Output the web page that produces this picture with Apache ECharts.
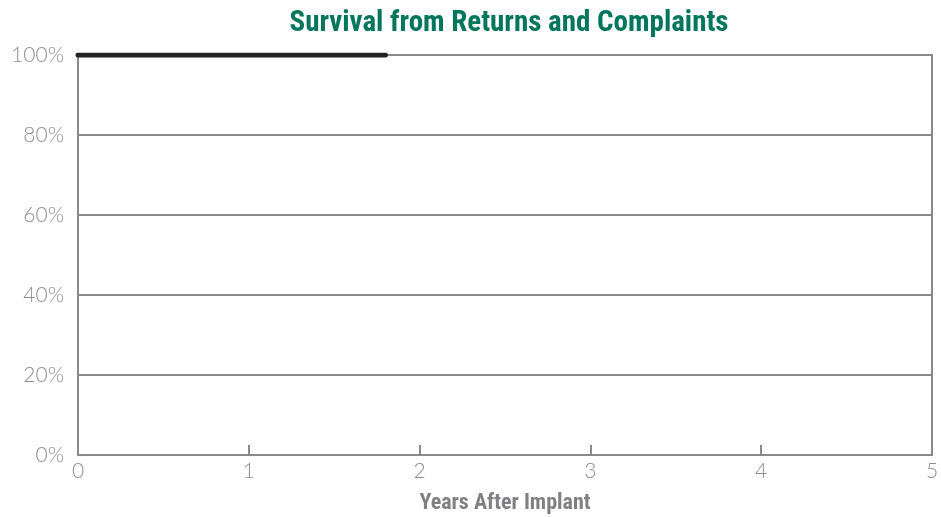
<!DOCTYPE html>
<html><head><meta charset="utf-8">
<script src="https://cdn.jsdelivr.net/npm/echarts@6/dist/echarts.min.js"></script>
<style>html,body{margin:0;padding:0;background:#fff}#c{width:941px;height:517px}</style>
</head><body><div id="c"></div>
<script>
const titleText = 'Survival from Returns and Complaints';
const xAxisName = 'Years After Implant';
const years = [0, 1.8];
const survival = [100, 100];
const yTicks = [0, 20, 40, 60, 80, 100];

const chart = echarts.init(document.getElementById('c'));
chart.setOption({
  animation: false,
  backgroundColor: '#fff',
  title: {
    text: titleText, left: 504, top: 4, textAlign: 'center',
    textStyle: {fontFamily: '"Roboto Condensed", "Liberation Sans Narrow", sans-serif', fontWeight: 'bold', fontSize: 29, color: '#00765C'}
  },
  grid: {left: 78, right: 9, top: 55, bottom: 62, outerBoundsMode: 'none', containLabel: false,
    show: true, borderColor: '#8a8a8c', borderWidth: 2, backgroundColor: 'transparent'},
  xAxis: {
    type: 'value', min: 0, max: 5, interval: 1,
    name: xAxisName, nameLocation: 'middle', nameGap: 37,
    nameTextStyle: {fontFamily: '"Roboto Condensed", "Liberation Sans Narrow", sans-serif', fontWeight: 'bold', fontSize: 22, color: '#808083'},
    axisLine: {show: true, lineStyle: {color: '#8a8a8c', width: 2}},
    axisTick: {show: true, inside: true, length: 10, lineStyle: {color: '#8a8a8c', width: 2}},
    axisLabel: {fontFamily: 'Lato, sans-serif', fontWeight: 300, fontSize: 21, color: '#8e8e91', margin: 6},
    splitLine: {show: false}
  },
  yAxis: {
    type: 'value', min: 0, max: 100, interval: 20,
    axisLine: {show: false}, axisTick: {show: false},
    axisLabel: {fontFamily: 'Lato, sans-serif', fontWeight: 300, fontSize: 21, color: '#8e8e91', margin: 14,
      formatter: v => yTicks.includes(v) ? v + '%' : ''},
    splitLine: {show: true, lineStyle: {color: '#8a8a8c', width: 2}}
  },
  series: [{
    type: 'line', data: years.map((x, i) => [x, survival[i]]),
    showSymbol: false, lineStyle: {color: '#222', width: 5, cap: 'round'}, z: 5
  }]
});
</script></body></html>
